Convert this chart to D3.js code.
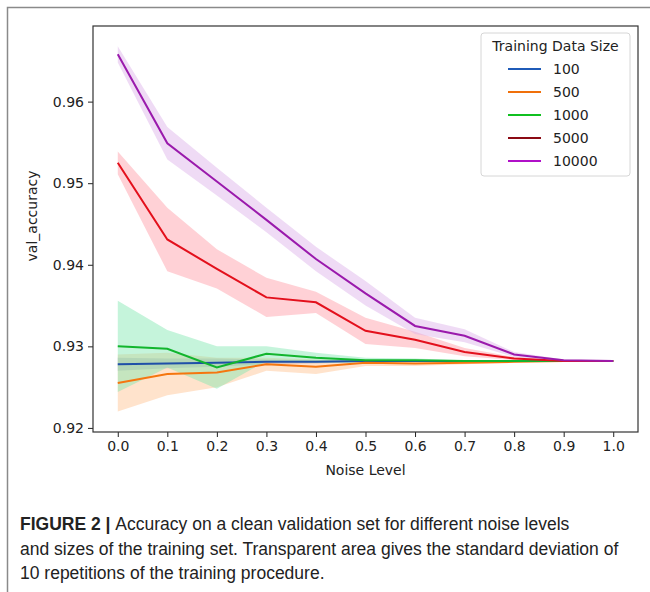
<!DOCTYPE html>
<html lang="en">
<head>
  <meta charset="UTF-8">
  <title>Figure 2</title>
  <script src="https://cdn.jsdelivr.net/npm/d3@7"></script>
  <style>
    body {
      margin: 0;
      background: #fff;
    }
    svg text {
      font-family: "DejaVu Sans", sans-serif;
      fill: #222;
    }
    svg text.caption {
      font-family: "Liberation Sans", Arial, sans-serif;
      font-size: 17.5px;
      fill: #222;
    }
  </style>
</head>
<body>
  <div id="chart"></div>
  <script>
    // values
    const noise = [0, 0.1, 0.2, 0.3, 0.4, 0.5, 0.6, 0.7, 0.8, 0.9, 1.0];
    const sizes = ["100", "500", "1000", "5000", "10000"];
    const xTicks = [0, 0.1, 0.2, 0.3, 0.4, 0.5, 0.6, 0.7, 0.8, 0.9, 1.0];
    const yTicks = [0.92, 0.93, 0.94, 0.95, 0.96];

    const mean100 = [0.9278, 0.9279, 0.9280, 0.9281, 0.9281, 0.9282, 0.9282, 0.9282, 0.9282, 0.9282, 0.9282];
    const std100 = [0.0008, 0.0006, 0.0005, 0.0003, 0.0002, 0.0001, 0.0001, 0.0001, 0.00005, 0, 0];
    const mean500 = [0.9255, 0.9266, 0.9268, 0.9278, 0.9275, 0.9280, 0.9279, 0.9280, 0.9281, 0.9282, 0.9282];
    const std500 = [0.0035, 0.0026, 0.0018, 0.0008, 0.0009, 0.0004, 0.0003, 0.0002, 0.0001, 0.00005, 0];
    const mean1000 = [0.9300, 0.9297, 0.9274, 0.9291, 0.9286, 0.9283, 0.9283, 0.9282, 0.9282, 0.9282, 0.9282];
    const std1000 = [0.0056, 0.0023, 0.0026, 0.0009, 0.0006, 0.0003, 0.0002, 0.0001, 0.0001, 0.00005, 0];
    const mean5000 = [0.9525, 0.9431, 0.9395, 0.9360, 0.9354, 0.9319, 0.9308, 0.9293, 0.9285, 0.9282, 0.9282];
    const std5000 = [0.0014, 0.0039, 0.0024, 0.0024, 0.0013, 0.0016, 0.0010, 0.0005, 0.0002, 0.0001, 0];
    const mean10000 = [0.9658, 0.9549, 0.9502, 0.9455, 0.9407, 0.9365, 0.9325, 0.9313, 0.9290, 0.9283, 0.9282];
    const std10000 = [0.0010, 0.0020, 0.0017, 0.0015, 0.0015, 0.0015, 0.0010, 0.0008, 0.0003, 0.0001, 0];

    const means = [mean100, mean500, mean1000, mean5000, mean10000];
    const stds = [std100, std500, std1000, std5000, std10000];
    const lineColors = ["#1f4fa8", "#f5760f", "#12b52e", "#e3101c", "#9a1aac"];
    const bandColors = ["#7f95c8", "#ffc28e", "#7ee6b0", "#ff9aa4", "#dcb0e8"];
    const legendColors = ["#1f5bb8", "#f0700a", "#10c020", "#8b0a14", "#b010c8"];

    const W = 650, H = 592;
    const plot = { left: 93, right: 638, top: 26, bottom: 432 };

    const svg = d3.select('#chart').append('svg')
      .attr('width', W)
      .attr('height', H);

    // page frame (top + left rule)
    svg.append('path')
      .attr('d', `M7.5,${H} V7.5 H${W}`)
      .attr('fill', 'none')
      .attr('stroke', '#8a8a8a')
      .attr('stroke-width', 1.5);

    const x = d3.scaleLinear().domain([-0.05, 1.05]).range([plot.left, plot.right]);
    const y = d3.scaleLinear().domain([0.9195, 0.96927]).range([plot.bottom, plot.top]);

    const area = d3.area()
      .x(d => x(d.x))
      .y0(d => y(d.m - d.s))
      .y1(d => y(d.m + d.s));
    const line = d3.line()
      .x(d => x(d.x))
      .y(d => y(d.m));

    const series = sizes.map((name, i) => ({
      name,
      points: noise.map((n, j) => ({ x: n, m: means[i][j], s: stds[i][j] }))
    }));

    const g = svg.append('g');

    g.selectAll('path.band')
      .data(series)
      .join('path')
      .attr('class', 'band')
      .attr('d', d => area(d.points))
      .attr('fill', (d, i) => bandColors[i])
      .attr('fill-opacity', 0.45);

    g.selectAll('path.line')
      .data(series)
      .join('path')
      .attr('class', 'line')
      .attr('d', d => line(d.points))
      .attr('fill', 'none')
      .attr('stroke', (d, i) => lineColors[i])
      .attr('stroke-width', 2);

    // axes
    const xAxis = svg.append('g')
      .attr('transform', `translate(0,${plot.bottom})`)
      .call(d3.axisBottom(x).tickValues(xTicks).tickFormat(d3.format('.1f')).tickSize(5).tickPadding(4));
    const yAxis = svg.append('g')
      .attr('transform', `translate(${plot.left},0)`)
      .call(d3.axisLeft(y).tickValues(yTicks).tickFormat(d3.format('.2f')).tickSize(5).tickPadding(4));

    [xAxis, yAxis].forEach(a => {
      a.select('.domain').remove();
      a.selectAll('line').attr('stroke', '#222');
      a.selectAll('text').attr('font-size', 14).attr('fill', '#222');
    });

    svg.append('rect')
      .attr('x', plot.left)
      .attr('y', plot.top)
      .attr('width', plot.right - plot.left)
      .attr('height', plot.bottom - plot.top)
      .attr('fill', 'none')
      .attr('stroke', '#333')
      .attr('stroke-width', 1.2);

    svg.append('text')
      .attr('x', (plot.left + plot.right) / 2)
      .attr('y', 475)
      .attr('text-anchor', 'middle')
      .attr('font-size', 14)
      .text('Noise Level');

    svg.append('text')
      .attr('transform', 'translate(37,216) rotate(-90)')
      .attr('text-anchor', 'middle')
      .attr('font-size', 14)
      .text('val_accuracy');

    // legend
    const lg = svg.append('g').attr('transform', 'translate(481,33)');
    lg.append('rect')
      .attr('width', 149)
      .attr('height', 143)
      .attr('rx', 3)
      .attr('fill', '#fff')
      .attr('fill-opacity', 0.85)
      .attr('stroke', '#d6d6d6');
    lg.append('text')
      .attr('x', 74.5)
      .attr('y', 18)
      .attr('text-anchor', 'middle')
      .attr('font-size', 14)
      .text('Training Data Size');
    const rows = lg.selectAll('g.row')
      .data(sizes)
      .join('g')
      .attr('class', 'row')
      .attr('transform', (d, i) => `translate(0,${36 + i * 23})`);
    rows.append('line')
      .attr('x1', 27).attr('x2', 60)
      .attr('stroke', (d, i) => legendColors[i])
      .attr('stroke-width', 2);
    rows.append('text')
      .attr('x', 72)
      .attr('y', 5)
      .attr('font-size', 14)
      .text(d => d);

    // caption
    const cap = svg.append('g');
    const l1 = cap.append('text').attr('class', 'caption').attr('x', 20).attr('y', 530);
    l1.append('tspan').attr('font-weight', 'bold').text('FIGURE 2 | ');
    l1.append('tspan').text('Accuracy on a clean validation set for different noise levels');
    cap.append('text').attr('class', 'caption').attr('x', 20).attr('y', 555)
      .text('and sizes of the training set. Transparent area gives the standard deviation of');
    cap.append('text').attr('class', 'caption').attr('x', 20).attr('y', 579)
      .text('10 repetitions of the training procedure.');
  </script>
</body>
</html>
